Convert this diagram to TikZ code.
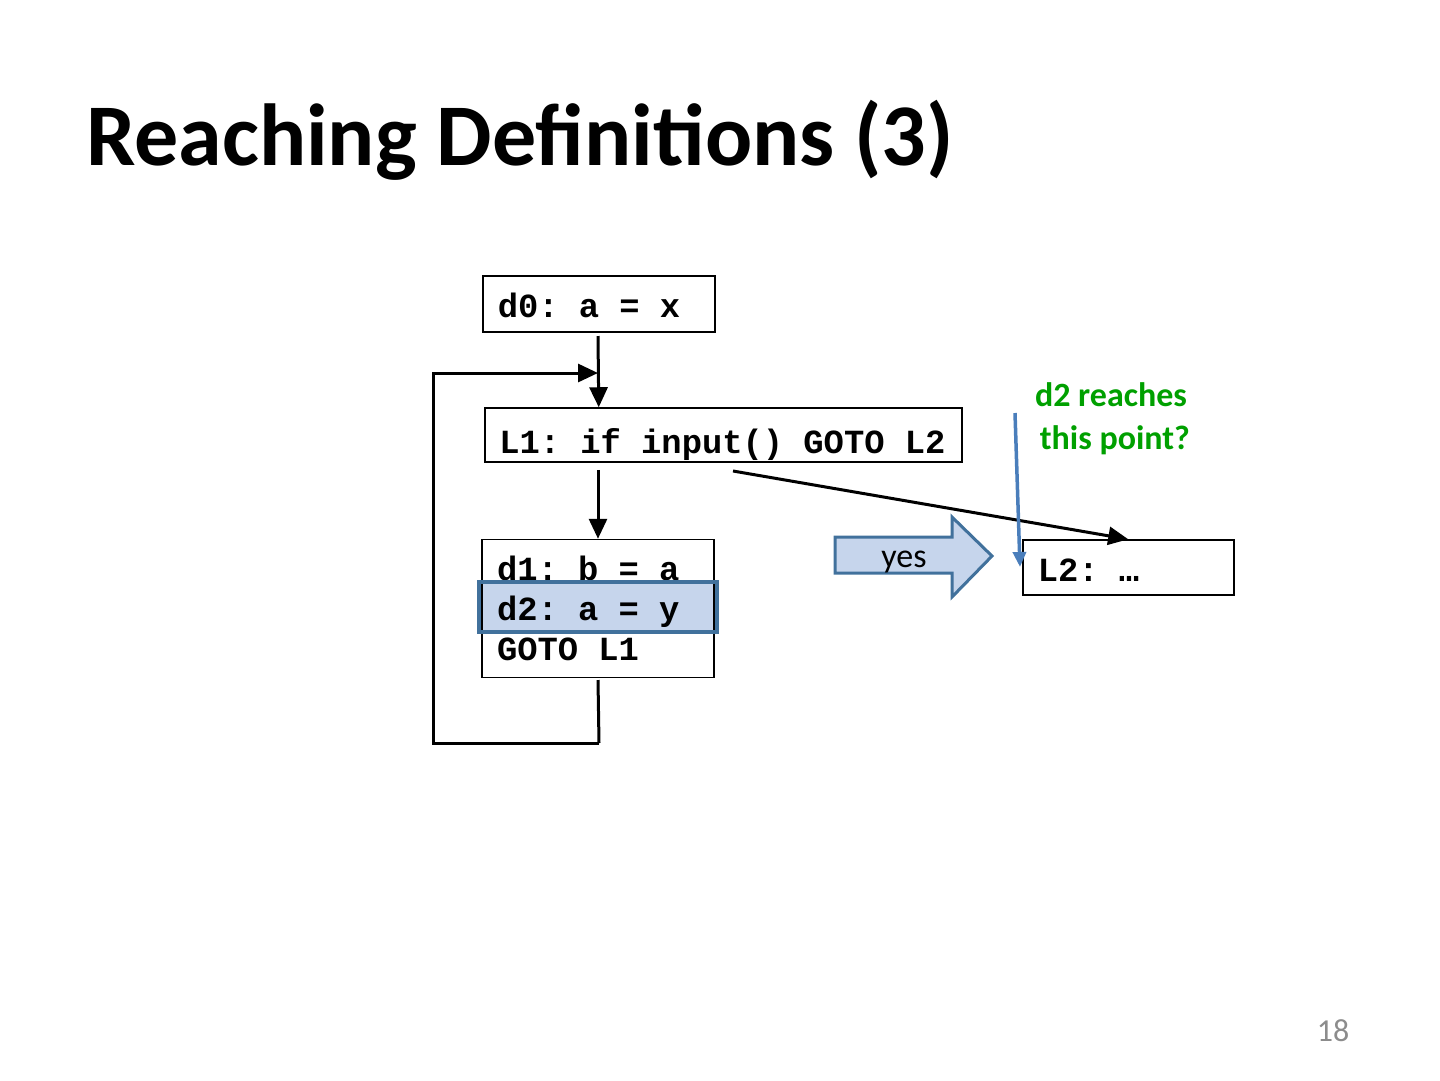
\documentclass[tikz,border=0pt]{standalone}
\usepackage{fontspec}
\setmainfont{Carlito}
\newfontfamily\codefont{Liberation Mono}
\usetikzlibrary{arrows.meta}
\definecolor{hlfill}{HTML}{C6D5EC}
\definecolor{hldraw}{HTML}{41719C}
\definecolor{ptrblue}{HTML}{4A7EBB}
\definecolor{qgreen}{HTML}{00A000}
\definecolor{pgray}{HTML}{8C8C8C}
\newcommand\monoset{\codefont\bfseries\frenchspacing\fontsize{33.8}{40}\selectfont}
\newcommand\msp{\spaceskip=0.6em\relax\xspaceskip=0.6em\relax}
\tikzset{
  codebox/.style={draw=black, line width=1.5pt, fill=white, inner xsep=15pt, inner ysep=0pt,
    font=\monoset, align=left},
  arr/.style={line width=3pt, -{Triangle[length=20pt,width=18pt]}},
  plain/.style={line width=3pt},
}
\begin{document}
\begin{tikzpicture}[x=1pt,y=-1pt]
\useasboundingbox (0,0) rectangle (1440,1080);
% title
\node[anchor=base west, inner sep=0pt, font=\bfseries\fontsize{88}{100}\selectfont] (title) at (86,165) {Reaching Definitions (3)};
% boxes
\node[codebox, anchor=base west, text width=202pt, text height=41pt, text depth=15pt] (d0) at (482,317) {\msp d0: a = x};
\node[codebox, anchor=base west, text width=448pt, inner xsep=14.5pt, text height=45pt, text depth=9pt] (L1) at (484,453) {\msp L1: if input() GOTO L2};
% highlight fill (behind text)
\node[draw=none, fill=white, minimum width=232pt, minimum height=138pt, inner sep=0pt] (d1bg) at (598,608) {};
\fill[hlfill] (479,582) rectangle (717,632);
\node[codebox, fill=none, anchor=center, minimum width=232pt, minimum height=138pt, text width=202pt] (d1) at (598,608.5) {\msp d1: b = a\\d2: a = y\\GOTO L1};
\draw[hldraw, line width=4pt] (479,582) rectangle (717,632);
\node[codebox, anchor=base west, text width=181pt, text height=41pt, text depth=14pt] (L2) at (1022,581) {\msp L2: …};
% connectors
\draw[arr] (598,336) -- (L1.north -| d0.south);
\draw[arr] (d1.north |- L1.south) ++(0,7) -- (d1.north);
\coordinate (lb) at (599,743);
\coordinate (ll) at (433,743);
\coordinate (lt) at (433,373);
\coordinate (lr) at (598,373);
\draw[plain] (598,680) -- (lb);
\draw[arr, line join=miter] (lb) -- (ll) -- (lt) -- (lr);
\coordinate (ds) at (733,471);
\draw[arr] (ds) -- (L2.north);
% yes arrow
\draw[hldraw, fill=hlfill, line width=3pt, line join=miter] (835,537) -- (952,537) -- (952,517) -- (992,556) -- (952,597) -- (952,573) -- (835,573) -- cycle;
\node[font=\fontsize{34}{40}\selectfont, inner sep=0pt] (yes) at (904,562) {yes};
% question
\node[font=\bfseries\fontsize{34}{43}\selectfont, text=qgreen, align=center, inner sep=0pt] (q) at (1111,419) {d2 reaches\\\ this point?};
\coordinate (qs) at (1015,413);
\coordinate (qe) at (1020,567);
\draw[ptrblue, line width=3.5pt, -{Triangle[length=15pt,width=13pt]}] (qs) -- (qe);
% page number
\node[font=\fontsize{32}{36}\selectfont, text=pgray, inner sep=0pt] (pg) at (1333,1031) {18};
\end{tikzpicture}
\end{document}
